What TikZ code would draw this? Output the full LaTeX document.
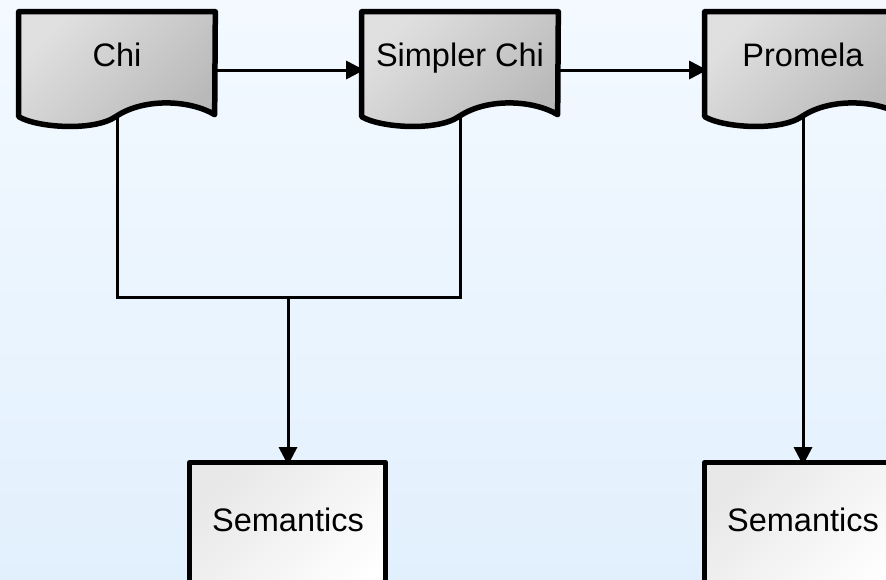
\documentclass[tikz,border=0pt]{standalone}
\usepackage{fontspec}
\setmainfont{Liberation Sans}
\usepackage{tikz}
\usetikzlibrary{arrows.meta}

\definecolor{skytop}{RGB}{243,249,255}
\definecolor{skybot}{RGB}{226,240,253}

\pgfdeclarelayer{bg}
\pgfdeclarelayer{wires}
\pgfdeclarelayer{shapes}
\pgfsetlayers{bg,wires,shapes,main}

\begin{document}
\begin{tikzpicture}[
    x=0.02cm, y=-0.02cm,
    font=\fontsize{18.5}{22}\selectfont,
    doc/.style={minimum width=3.92cm, minimum height=2.32cm, inner sep=0pt,
      text height=0.47cm, text depth=0.6cm},
    sem/.style={minimum width=3.92cm, minimum height=2.28cm, inner sep=0pt},
    outline/.style={line width=0.11cm, line join=round},
    wire/.style={line width=0.06cm},
    feed/.style={wire, -{Triangle[length=0.36cm,width=0.36cm]}, shorten >=-0.05cm},
]
    \useasboundingbox (0,0) rectangle (886,579);
    \clip (0,0) rectangle (886,579);
    \begin{pgfonlayer}{bg}
      \fill[top color=skytop, bottom color=skybot] (0,0) rectangle (886,579);
    \end{pgfonlayer}

    \node (chi) at (117,70) [doc] {Chi};
    \node (simpler) at (460,70) [doc] {Simpler Chi};
    \node (prom) at (803,70) [doc] {Promela};
    \node (sem1) at (288,520) [sem] {Semantics};
    \node (sem2) at (803,520) [sem] {Semantics};
    \coordinate (merge) at (288,297);

    % document shapes with a wavy bottom, boxes below
    \begin{pgfonlayer}{shapes}
    \foreach \n in {chi,simpler,prom}
    {
      \draw[outline, top color=gray!24, bottom color=gray!55, shading angle=45]
        (\n.north west) -- ++(0,105)
        .. controls +(18,11) and +(-22,15) .. ++(97,0)
        .. controls +(28,-19) and +(-25,-15) .. ++(99,-2)
        -- (\n.north east) -- cycle;
    }
    \foreach \n in {sem1,sem2}
      \draw[outline, top color=gray!18, bottom color=white, shading angle=45]
        (\n.north west) rectangle ++(196,150);
    \end{pgfonlayer}

    \begin{pgfonlayer}{wires}
      \draw[wire] (chi.center) |- (merge) -| (simpler.center);
      \draw[feed] (merge) -- (sem1.north);
      \draw[feed] (chi.east) -- (simpler.west);
      \draw[feed] (simpler.east) -- (prom.west);
      \draw[feed] (prom.center) -- (sem2.north);
    \end{pgfonlayer}
\end{tikzpicture}
\end{document}
